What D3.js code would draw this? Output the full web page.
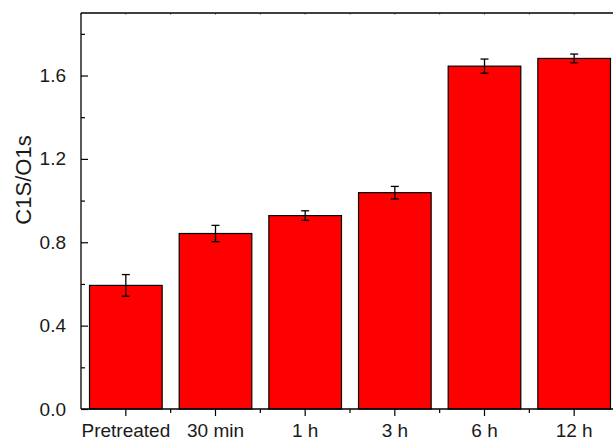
<!DOCTYPE html>
<html><head><meta charset="utf-8">
<script src="https://cdn.jsdelivr.net/npm/d3@7"></script>
<style>body{margin:0;background:#fff}svg{display:block}</style>
</head><body>
<script>
const categories = ["Pretreated","30 min","1 h","3 h","6 h","12 h"];
const values = [0.593, 0.842, 0.928, 1.038, 1.645, 1.682];
const errors = [0.052, 0.039, 0.023, 0.030, 0.034, 0.021];
const yTicks = [0.0, 0.4, 0.8, 1.2, 1.6];
const yMinor = [0.2, 0.6, 1.0, 1.4, 1.8];
const yLabel = "C1S/O1s";

(function () {
const W = 613, H = 443;
const pL = 81, pR = 619, pT = 13, pB = 409;
const svg = d3.select("body").append("svg").attr("width", W).attr("height", H);
const x = d3.scaleBand().domain(categories).range([pL, pR]).padding(0);
const y = d3.scaleLinear().domain([0, 1.9]).range([pB, pT]);
const font = "Liberation Sans, Arial, sans-serif";
const bw = x.bandwidth() * 0.81;

// bars
svg.append("g").selectAll("rect").data(categories).join("rect")
  .attr("x", (d) => x(d) + (x.bandwidth() - bw) / 2)
  .attr("y", (d, i) => y(values[i]))
  .attr("width", bw)
  .attr("height", (d, i) => y(0) - y(values[i]))
  .attr("fill", "#ff0000").attr("stroke", "#000").attr("stroke-width", 1.2);

// error bars
const eg = svg.append("g").attr("stroke", "#000").attr("stroke-width", 1.3);
categories.forEach((c, i) => {
  const cx = x(c) + x.bandwidth() / 2;
  const y1 = y(values[i] + errors[i]), y2 = y(values[i] - errors[i]);
  eg.append("line").attr("x1", cx).attr("x2", cx).attr("y1", y1).attr("y2", y2);
  eg.append("line").attr("x1", cx - 4).attr("x2", cx + 4).attr("y1", y1).attr("y2", y1);
  eg.append("line").attr("x1", cx - 4).attr("x2", cx + 4).attr("y1", y2).attr("y2", y2);
});

// left axis (ticks inward)
const yAxis = d3.axisLeft(y).tickValues(yTicks).tickFormat(d3.format(".1f")).tickSizeInner(-7).tickSizeOuter(0).tickPadding(15);
const gy = svg.append("g").attr("transform", `translate(${pL},0)`).call(yAxis);
gy.select(".domain").remove();
gy.selectAll("text").attr("font-family", font).attr("font-size", 19).attr("fill", "#1a1a1a");
gy.selectAll("line").attr("stroke", "#000").attr("stroke-width", 1.2);
const gym = svg.append("g").attr("transform", `translate(${pL},0)`)
  .call(d3.axisLeft(y).tickValues(yMinor).tickFormat("").tickSizeInner(-4).tickSizeOuter(0));
gym.select(".domain").remove();
gym.selectAll("line").attr("stroke", "#000").attr("stroke-width", 1.2);

// bottom axis (ticks outward)
const xAxis = d3.axisBottom(x).tickSizeInner(7).tickSizeOuter(0).tickPadding(8);
const gx = svg.append("g").attr("transform", `translate(0,${pB})`).call(xAxis);
gx.select(".domain").remove();
gx.selectAll("text").attr("font-family", font).attr("font-size", 19).attr("fill", "#1a1a1a");
gx.selectAll("line").attr("stroke", "#000").attr("stroke-width", 1.2);
const gxm = svg.append("g").attr("stroke", "#000").attr("stroke-width", 1.2);
categories.slice(1).forEach((c) => {
  gxm.append("line").attr("x1", x(c)).attr("x2", x(c)).attr("y1", pB).attr("y2", pB + 4);
});
const gt = svg.append("g").attr("stroke", "#999").attr("stroke-width", 1);
categories.forEach((c) => {
  const cx = x(c) + x.bandwidth() / 2;
  gt.append("line").attr("x1", cx).attr("x2", cx).attr("y1", pT).attr("y2", pT + 2);
  gt.append("line").attr("x1", x(c)).attr("x2", x(c)).attr("y1", pT).attr("y2", pT + 2);
});

// frame
const fr = svg.append("g").attr("stroke", "#000").attr("stroke-width", 1.3);
fr.append("line").attr("x1", pL).attr("x2", pR).attr("y1", pT).attr("y2", pT);
fr.append("line").attr("x1", pL).attr("x2", pR).attr("y1", pB).attr("y2", pB);
fr.append("line").attr("x1", pL).attr("x2", pL).attr("y1", pT).attr("y2", pB);

// y label
svg.append("text").attr("transform", `translate(31,180) rotate(-90)`)
  .attr("text-anchor", "middle").attr("font-family", font).attr("font-size", 22).attr("fill", "#1a1a1a")
  .text(yLabel);
})();
</script>
</body></html>
